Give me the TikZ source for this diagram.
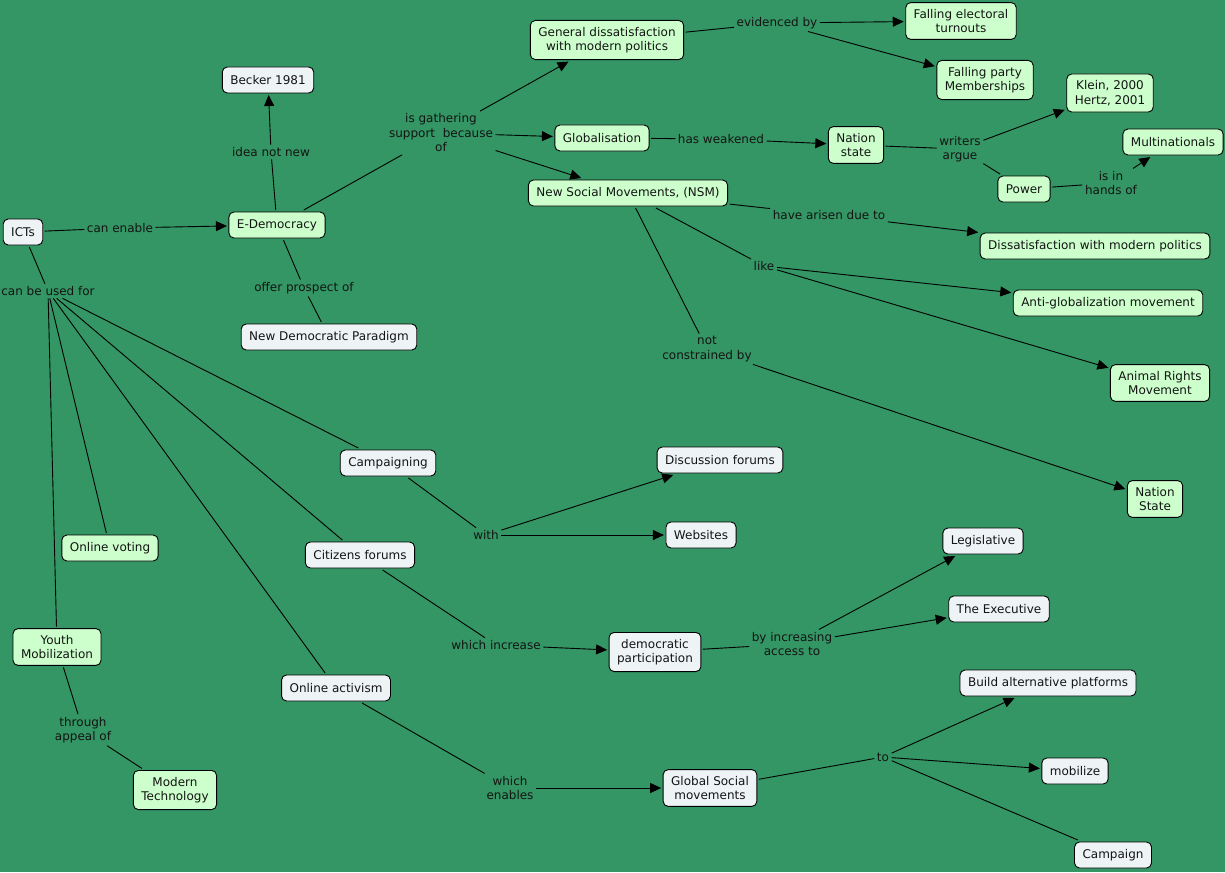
\documentclass[tikz,border=0pt]{standalone}
\usepackage{fontspec}
\setmainfont{DejaVu Sans}
\usetikzlibrary{arrows.meta}
\definecolor{bg}{RGB}{51,150,100}
\definecolor{gfill}{RGB}{204,255,204}
\definecolor{wfill}{RGB}{238,243,246}
\definecolor{ink}{RGB}{20,20,20}
\tikzset{
 base/.style={draw=black, line width=0.9pt, rounded corners=5pt, inner xsep=8pt, inner ysep=6.5pt, minimum height=26pt, outer sep=2pt, align=center, font=\fontsize{12}{14.5}\selectfont, text=ink},
 gbox/.style={base, fill=gfill},
 wbox/.style={base, fill=wfill},
 lab/.style={inner sep=2.5pt, align=center, font=\fontsize{12}{14.5}\selectfont, text=ink},
 con/.style={draw=black, line width=0.9pt},
 arr/.style={con, -{Triangle[length=11pt,width=10pt]}},
}
\begin{document}
\begin{tikzpicture}[x=1pt,y=-1pt]
\fill[bg] (0,0) rectangle (1225,872);
\useasboundingbox (0,0) rectangle (1225,872);
% concepts
\node[wbox] (icts) at (23,232) {ICTs};
\node[gbox] (edem) at (277,225) {E-Democracy};
\node[wbox] (becker) at (268,80) {Becker 1981};
\node[wbox] (ndp) at (329,337) {New Democratic Paradigm};
\node[gbox] (gendis) at (607,40) {General dissatisfaction\\with modern politics};
\node[gbox] (glob) at (602,138) {Globalisation};
\node[gbox] (nsm) at (628,193) {New Social Movements, (NSM)};
\node[gbox] (fet) at (961,21) {Falling electoral\\turnouts};
\node[gbox] (fpm) at (985,80) {Falling party\\Memberships};
\node[gbox] (klein) at (1110,93) {Klein, 2000\\Hertz, 2001};
\node[gbox] (ns1) at (856,145) {Nation\\state};
\node[gbox] (multi) at (1173,142) {Multinationals};
\node[gbox] (power) at (1024,189) {Power};
\node[gbox] (dis) at (1095,246) {Dissatisfaction with modern politics};
\node[gbox] (anti) at (1108,303) {Anti-globalization movement};
\node[gbox] (animal) at (1160,383) {Animal Rights\\Movement};
\node[gbox] (ns2) at (1155,499) {Nation\\State};
\node[wbox] (camp) at (388,463) {Campaigning};
\node[wbox] (disc) at (720,460) {Discussion forums};
\node[wbox] (web) at (701,535) {Websites};
\node[gbox] (ovote) at (110,548) {Online voting};
\node[wbox] (cit) at (360,555) {Citizens forums};
\node[gbox] (youth) at (57,647) {Youth\\Mobilization};
\node[wbox] (oact) at (336,688) {Online activism};
\node[gbox] (modtech) at (175,790) {Modern\\Technology};
\node[wbox] (dempart) at (655,652) {democratic\\participation};
\node[wbox] (legis) at (983,541) {Legislative};
\node[wbox] (exec) at (999,609) {The Executive};
\node[wbox] (gsm) at (710,788) {Global Social\\movements};
\node[wbox] (build) at (1048,683) {Build alternative platforms};
\node[wbox] (mob) at (1075,771) {mobilize};
\node[wbox] (campaign) at (1113,855) {Campaign};
% linking phrases
\node[lab] (l1) at (120,228) {can enable};
\node[lab] (l2) at (48,291) {can be used for};
\node[lab] (l3) at (271,152) {idea not new};
\node[lab] (l4) at (304,288) {offer prospect of};
\node[lab] (l5) at (441,133) {is gathering\\support~ because\\of};
\node[lab] (l6) at (777,23) {evidenced by};
\node[lab] (l7) at (721,139) {has weakened};
\node[lab] (l8) at (960,149) {writers\\argue};
\node[lab] (l9) at (1111,183) {is in\\hands of};
\node[lab] (l10) at (829,215) {have arisen due to};
\node[lab] (l11) at (764,266) {like};
\node[lab] (l12) at (707,349) {not\\constrained by};
\node[lab] (l13) at (486,535) {with};
\node[lab] (l14) at (496,645) {which increase};
\node[lab] (l15) at (792,644) {by increasing\\access to};
\node[lab] (l16) at (510,788) {which\\enables};
\node[lab] (l17) at (883,757) {to};
\node[lab] (l18) at (83,730) {through\\appeal of};
% connectors
\draw[con] (icts) -- (l1);
\draw[arr] (l1) -- (edem);
\draw[con] (icts) -- (l2);
\draw[con] (l2) -- (ovote);
\draw[con] (l2) -- (youth);
\draw[con] (l2) -- (camp);
\draw[con] (l2) -- (cit);
\draw[con] (l2) -- (oact);
\draw[con] (edem) -- (l3);
\draw[arr] (l3) -- (becker);
\draw[con] (edem) -- (l4);
\draw[con] (l4) -- (ndp);
\draw[con] (edem) -- (l5);
\draw[arr] (l5) -- (gendis);
\draw[arr] (l5) -- (glob);
\draw[arr] (l5) -- (nsm);
\draw[con] (gendis) -- (l6);
\draw[arr] (l6) -- (fet);
\draw[arr] (l6) -- (fpm);
\draw[con] (glob) -- (l7);
\draw[arr] (l7) -- (ns1);
\draw[con] (ns1) -- (l8);
\draw[arr] (l8) -- (klein);
\draw[con] (l8) -- (power);
\draw[con] (power) -- (l9);
\draw[arr] (l9) -- (multi);
\draw[con] (nsm) -- (l10);
\draw[arr] (l10) -- (dis);
\draw[con] (nsm) -- (l11);
\draw[arr] (l11) -- (anti);
\draw[arr] (l11) -- (animal);
\draw[con] (nsm) -- (l12);
\draw[arr] (l12) -- (ns2);
\draw[con] (camp) -- (l13);
\draw[arr] (l13) -- (disc);
\draw[arr] (l13) -- (web);
\draw[con] (cit) -- (l14);
\draw[arr] (l14) -- (dempart);
\draw[con] (dempart) -- (l15);
\draw[arr] (l15) -- (legis);
\draw[arr] (l15) -- (exec);
\draw[con] (oact) -- (l16);
\draw[arr] (l16) -- (gsm);
\draw[con] (gsm) -- (l17);
\draw[arr] (l17) -- (build);
\draw[arr] (l17) -- (mob);
\draw[con] (l17) -- (campaign);
\draw[con] (youth) -- (l18);
\draw[con] (l18) -- (modtech);
\end{tikzpicture}
\end{document}
